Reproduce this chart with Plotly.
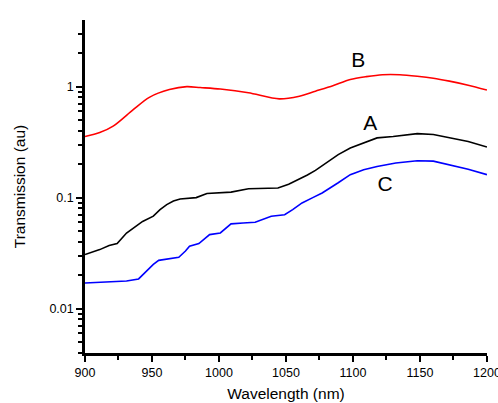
import plotly.graph_objects as go

# Curve B (red)
b_x = [900, 911, 921, 936, 948, 963, 976, 986, 1001, 1022, 1045, 1060, 1072, 1085, 1098, 1110, 1122, 1135, 1148, 1160, 1172, 1186, 1200]
b_y = [0.355, 0.385, 0.44, 0.62, 0.80, 0.94, 1.00, 0.98, 0.95, 0.88, 0.775, 0.82, 0.91, 1.02, 1.16, 1.23, 1.28, 1.28, 1.24, 1.19, 1.12, 1.03, 0.93]

# Curve A (black)
a_x = [900, 911, 918, 924, 931, 937, 943, 951, 956, 961, 966, 971, 983, 991, 1001, 1009, 1022, 1035, 1044, 1052, 1059, 1066, 1072, 1080, 1089, 1098, 1108, 1118, 1130, 1140, 1148, 1160, 1172, 1186, 1200]
a_y = [0.0307, 0.034, 0.037, 0.0385, 0.048, 0.054, 0.061, 0.068, 0.078, 0.0865, 0.093, 0.097, 0.100, 0.109, 0.110, 0.112, 0.120, 0.121, 0.122, 0.132, 0.145, 0.160, 0.176, 0.205, 0.244, 0.28, 0.31, 0.345, 0.355, 0.37, 0.377, 0.37, 0.345, 0.32, 0.286]

# Curve C (blue)
c_x = [900, 911, 931, 940, 946, 951, 955, 961, 970, 975, 978, 985, 993, 1001, 1009, 1018, 1027, 1039, 1049, 1055, 1062, 1070, 1077, 1089, 1098, 1108, 1118, 1132, 1148, 1160, 1172, 1186, 1200]
c_y = [0.017, 0.0173, 0.0177, 0.0185, 0.0217, 0.025, 0.0272, 0.028, 0.029, 0.033, 0.0364, 0.0385, 0.0464, 0.048, 0.058, 0.059, 0.060, 0.068, 0.070, 0.078, 0.0895, 0.10, 0.11, 0.136, 0.161, 0.178, 0.191, 0.205, 0.215, 0.213, 0.197, 0.18, 0.161]

labels = ["B", "A", "C"]
label_x = [1104, 1113, 1124]
label_y = [1.68, 0.455, 0.128]

x_ticks = [900, 950, 1000, 1050, 1100, 1150, 1200]
x_minor = [925, 975, 1025, 1075, 1125, 1175]
y_ticks = [0.01, 0.1, 1]
y_ticktext = ["0.01", "0.1", "1"]

fig = go.Figure()
fig.add_trace(go.Scatter(x=b_x, y=b_y, mode="lines", line=dict(color="#ff0000", width=1.6, shape="spline", smoothing=0.8)))
fig.add_trace(go.Scatter(x=a_x, y=a_y, mode="lines", line=dict(color="#000000", width=1.6)))
fig.add_trace(go.Scatter(x=c_x, y=c_y, mode="lines", line=dict(color="#0000ff", width=1.6)))
fig.add_trace(go.Scatter(x=label_x, y=label_y, mode="text", text=labels,
                         textfont=dict(family="Liberation Sans, Arial", size=21, color="black")))

minor_y = []
for d in [0.001, 0.01, 0.1, 1]:
    for k in range(2, 10):
        minor_y.append(k * d)

fig.update_layout(
    width=498, height=403,
    margin=dict(l=85, r=11, t=20, b=50, autoexpand=False),
    paper_bgcolor="white", plot_bgcolor="white",
    showlegend=False,
    font=dict(family="Liberation Sans, Arial", color="black", size=12),
)
fig.update_xaxes(
    range=[900, 1200.05], tickvals=x_ticks,
    ticks="outside", ticklen=6, tickwidth=2, tickcolor="black",
    showline=True, linewidth=2.5, linecolor="black", showgrid=False, zeroline=False,
    minor=dict(tickvals=x_minor, ticks="outside", ticklen=4, tickwidth=2, tickcolor="black", showgrid=False),
    title=dict(text="Wavelength (nm)", font=dict(size=15.5), standoff=10),
    tickfont=dict(size=12.5), automargin=False, ticklabeloverflow="allow",
)
fig.update_yaxes(
    type="log", range=[-2.4, 0.6], tickvals=y_ticks, ticktext=y_ticktext,
    ticks="outside", ticklen=6, tickwidth=2, tickcolor="black",
    showline=True, linewidth=2.5, linecolor="black", showgrid=False, zeroline=False,
    minor=dict(tickvals=minor_y, ticks="outside", ticklen=4, tickwidth=2, tickcolor="black", showgrid=False),
    title=dict(text="Transmission (au)", font=dict(size=15.5), standoff=20),
    tickfont=dict(size=12.5), automargin=False,
)
fig.write_html("out.html", config={"displayModeBar": False},
               post_script="document.body.style.margin='0';")
